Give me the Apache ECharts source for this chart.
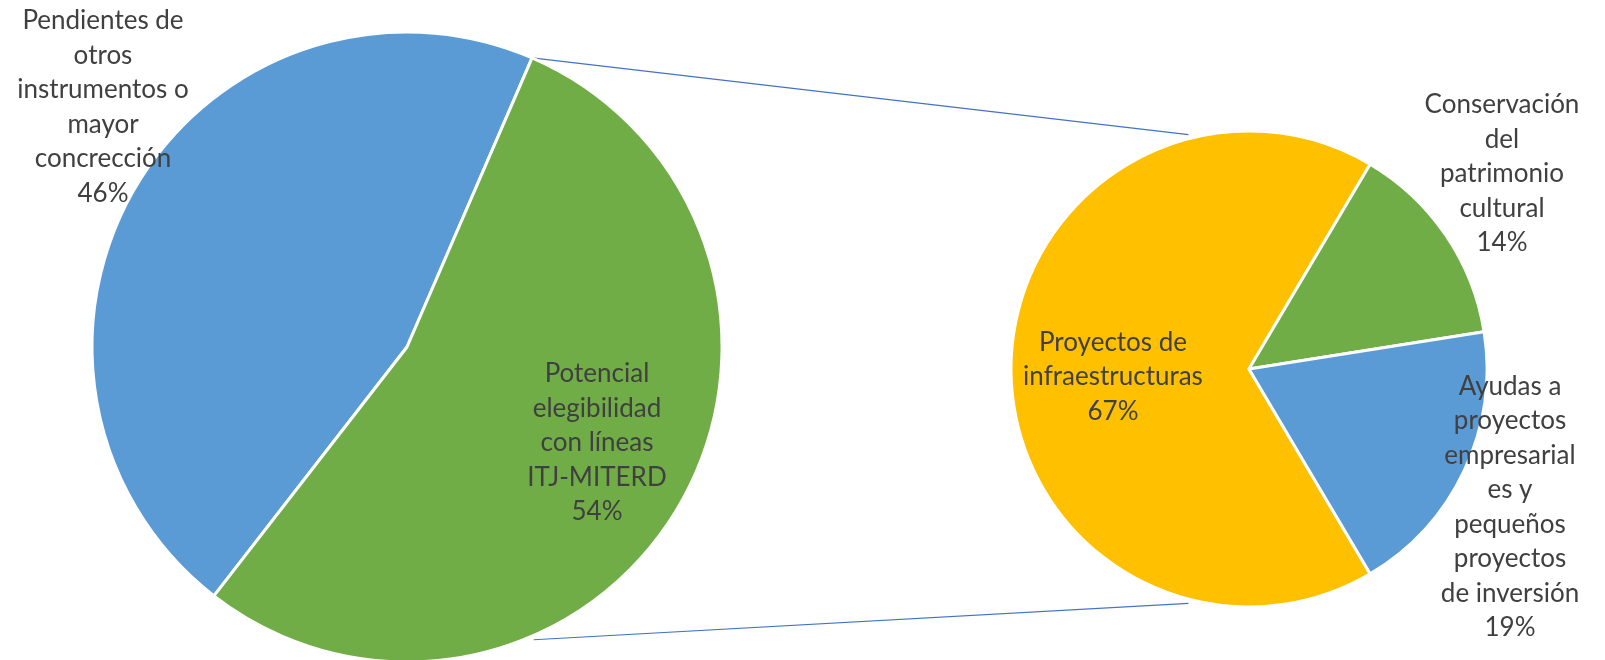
<!DOCTYPE html>
<html>
<head>
<meta charset="utf-8">
<script src="https://cdn.jsdelivr.net/npm/echarts@6/dist/echarts.min.js"></script>
<style>html,body{margin:0;padding:0;background:#fff}#c{width:1605px;height:660px}</style>
</head>
<body>
<div id="c"></div>
<script>
// Main pie
var mainNames = ['Pendientes de otros instrumentos o mayor concrección', 'Potencial elegibilidad con líneas ITJ-MITERD'];
var mainLabels = ['Pendientes de\notros\ninstrumentos o\nmayor\nconcrección', 'Potencial\nelegibilidad\ncon líneas\nITJ-MITERD'];
var mainValues = [46, 54];
var mainColors = ['#5B9BD5', '#70AD47'];
// Secondary pie (breakdown of the 54%)
var subNames = ['Proyectos de infraestructuras', 'Conservación del patrimonio cultural', 'Ayudas a proyectos empresariales y pequeños proyectos de inversión'];
var subLabels = ['Proyectos de\ninfraestructuras', 'Conservación\ndel\npatrimonio\ncultural', 'Ayudas a\nproyectos\nempresarial\nes y\npequeños\nproyectos\nde inversión'];
var subValues = [67, 14, 19];
var subColors = ['#FFC000', '#70AD47', '#5B9BD5'];

var L = {cx: 407, cy: 347, r: 315, start: 232.2};
var R = {cx: 1249, cy: 369, r: 238};
var subTotal = subValues.reduce(function(a, b){return a + b;}, 0);
R.start = 180 + subValues[0] / subTotal * 360 / 2;
var mainTotal = mainValues.reduce(function(a, b){return a + b;}, 0);
var splitAngle = L.start - mainValues[0] / mainTotal * 360; // start of green slice
var rightConnAngle = 104.5;

var mainLabelPos = [[103, 107], [597, 443]];
var subLabelPos = [[1113, 377], [1502, 174], [1510, 507]];

function mk(names, labels, values, colors) {
  return names.map(function(n, i){
    return {name: n, value: values[i], itemStyle: {color: colors[i]}, label: {formatter: labels[i] + '\n{d}%'}};
  });
}
var font = {fontFamily: 'Lato', fontSize: 26, lineHeight: 34.5, color: '#404040'};

function pt(c, r, deg) {
  var a = deg * Math.PI / 180;
  return [c.cx + r * Math.cos(a), c.cy - r * Math.sin(a)];
}
var p1 = pt(L, L.r, splitAngle), p2 = pt(R, R.r + 4, rightConnAngle);
var p3 = pt(L, L.r + 4, -splitAngle), p4 = pt(R, R.r + 4, -rightConnAngle);

var chart = echarts.init(document.getElementById('c'));
chart.setOption({
  animation: false,
  graphic: [
    {type: 'line', shape: {x1: p1[0], y1: p1[1], x2: p2[0], y2: p2[1]}, style: {stroke: '#4472C4', lineWidth: 1.2}, z: 0},
    {type: 'line', shape: {x1: p3[0], y1: p3[1], x2: p4[0], y2: p4[1]}, style: {stroke: '#4472C4', lineWidth: 1.2}, z: 0}
  ],
  series: [
    {
      type: 'pie', center: [L.cx, L.cy], radius: L.r, startAngle: L.start, clockwise: true,
      data: mk(mainNames, mainLabels, mainValues, mainColors),
      itemStyle: {borderColor: '#fff', borderWidth: 3},
      label: Object.assign({show: true, position: 'inside', align: 'center'}, font),
      labelLine: {show: false},
      emphasis: {disabled: true},
      labelLayout: function(p){ var q = mainLabelPos[p.dataIndex]; return {x: q[0], y: q[1], align: 'center', verticalAlign: 'middle'}; }
    },
    {
      type: 'pie', center: [R.cx, R.cy], radius: R.r, startAngle: R.start, clockwise: true,
      data: mk(subNames, subLabels, subValues, subColors),
      itemStyle: {borderColor: '#fff', borderWidth: 3},
      label: Object.assign({show: true, position: 'inside', align: 'center'}, font),
      labelLine: {show: false},
      emphasis: {disabled: true},
      labelLayout: function(p){ var q = subLabelPos[p.dataIndex]; return {x: q[0], y: q[1], align: 'center', verticalAlign: 'middle'}; }
    }
  ]
});
</script>
</body>
</html>
